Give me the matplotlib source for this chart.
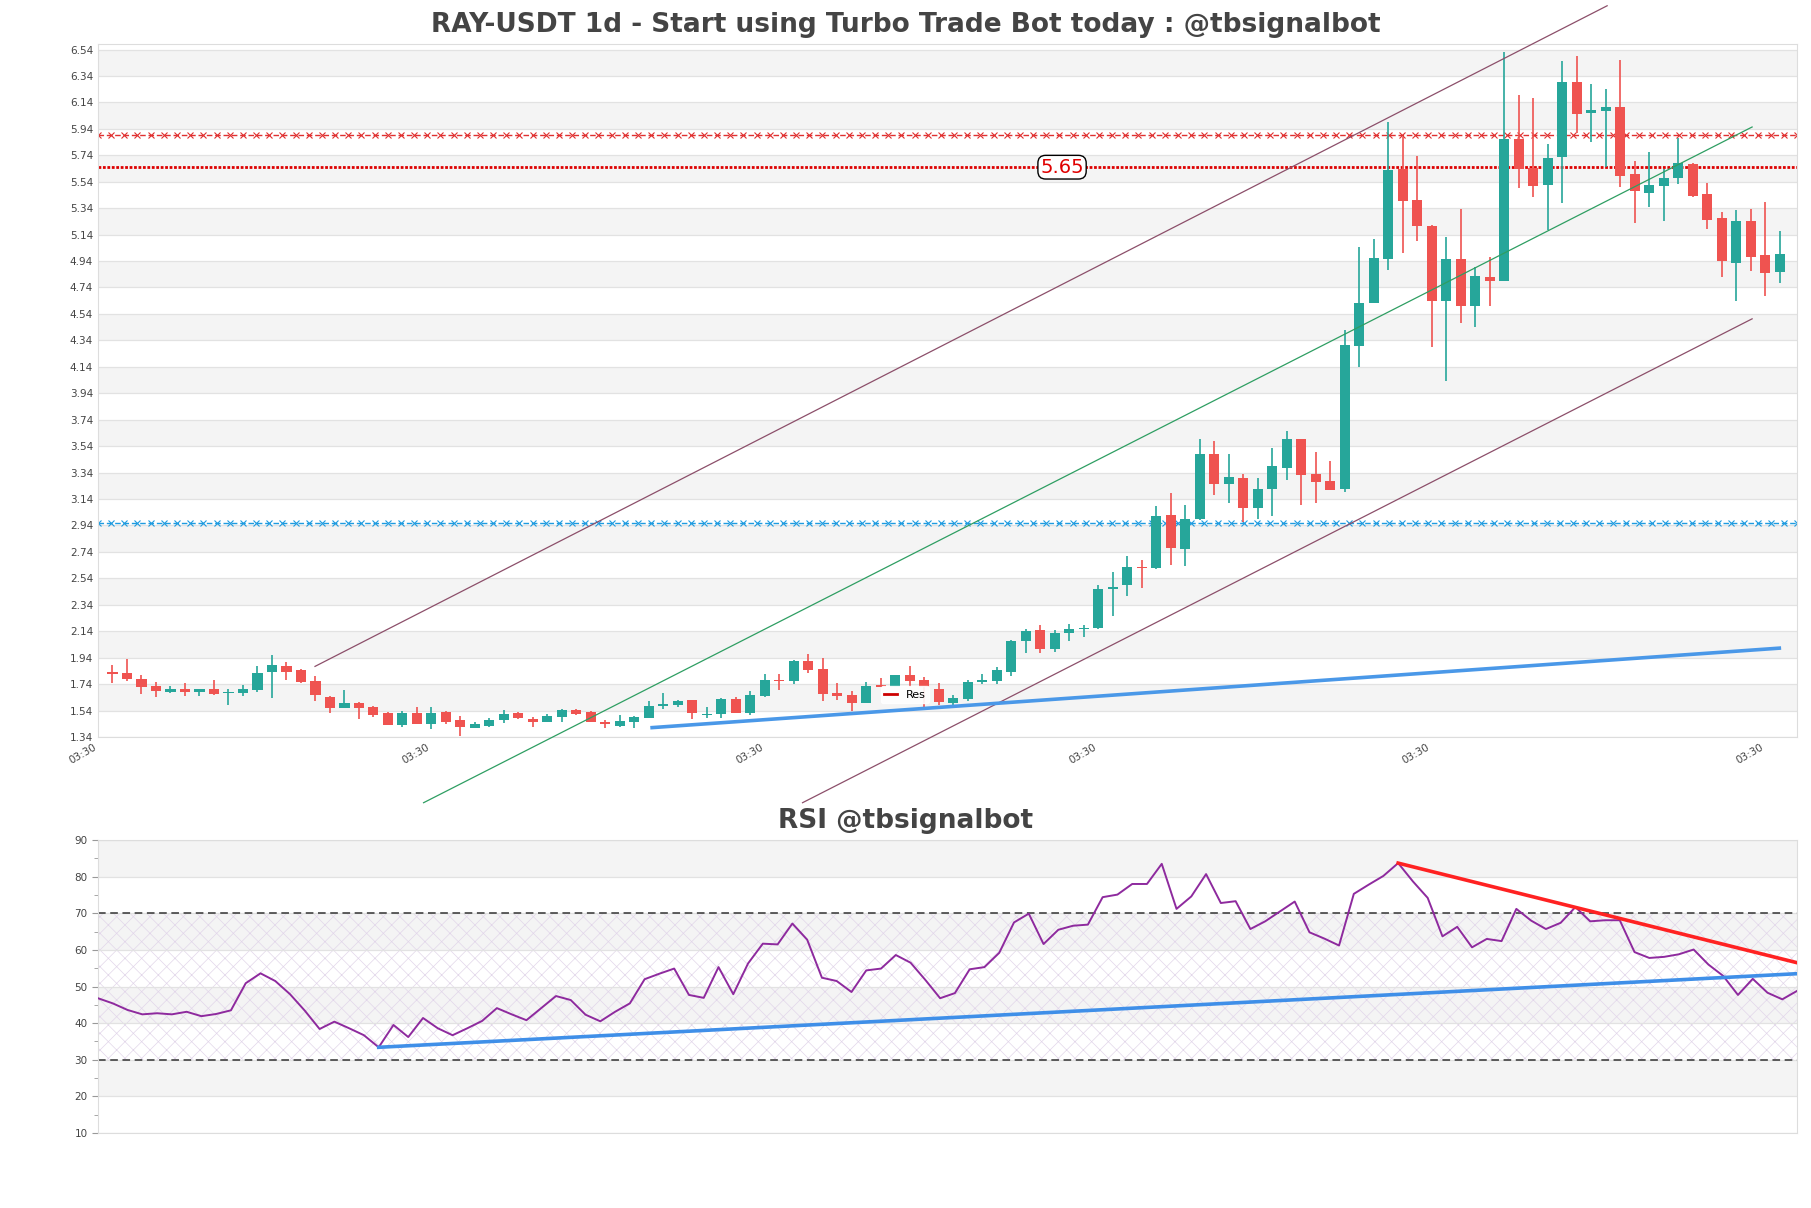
import numpy as np
import matplotlib
matplotlib.use('Agg')
import matplotlib.pyplot as plt
from matplotlib.lines import Line2D

# daily candles
opens = [1.830, 1.822, 1.776, 1.725, 1.680, 1.704, 1.682, 1.704, 1.675, 1.675,
         1.696, 1.834, 1.877, 1.847, 1.764, 1.643, 1.562, 1.597, 1.565, 1.519,
         1.433, 1.519, 1.441, 1.527, 1.469, 1.410, 1.426, 1.469, 1.519, 1.479,
         1.456, 1.489, 1.544, 1.529, 1.451, 1.426, 1.456, 1.487, 1.577, 1.582,
         1.620, 1.507, 1.514, 1.630, 1.524, 1.650, 1.772, 1.764, 1.915, 1.851,
         1.673, 1.655, 1.600, 1.731, 1.721, 1.809, 1.771, 1.703, 1.600, 1.627,
         1.753, 1.764, 1.834, 2.068, 2.149, 2.008, 2.124, 2.157, 2.167, 2.457,
         2.487, 2.628, 2.620, 3.020, 2.762, 2.987, 3.481, 3.256, 3.297, 3.075,
         3.214, 3.378, 3.594, 3.330, 3.277, 3.215, 4.298, 4.625, 4.958, 5.634,
         5.402, 5.205, 4.641, 4.953, 4.603, 4.817, 4.792, 5.863, 5.642, 5.518,
         5.730, 6.297, 6.058, 6.078, 6.103, 5.596, 5.458, 5.510, 5.566, 5.672,
         5.448, 5.263, 4.928, 5.243, 4.986, 4.855]
highs = [1.885, 1.928, 1.809, 1.756, 1.725, 1.746, 1.704, 1.771, 1.701, 1.735,
         1.877, 1.960, 1.907, 1.852, 1.802, 1.648, 1.696, 1.607, 1.575, 1.527,
         1.539, 1.565, 1.565, 1.539, 1.499, 1.456, 1.481, 1.544, 1.527, 1.494,
         1.512, 1.549, 1.549, 1.537, 1.469, 1.504, 1.499, 1.615, 1.670, 1.620,
         1.620, 1.564, 1.635, 1.640, 1.688, 1.814, 1.816, 1.922, 1.968, 1.935,
         1.749, 1.688, 1.753, 1.784, 1.809, 1.877, 1.796, 1.746, 1.658, 1.771,
         1.814, 1.872, 2.073, 2.157, 2.187, 2.149, 2.195, 2.187, 2.490, 2.586,
         2.712, 2.679, 3.088, 3.183, 3.095, 3.594, 3.582, 3.481, 3.330, 3.297,
         3.523, 3.655, 3.594, 3.493, 3.425, 4.418, 5.049, 5.105, 5.995, 5.881,
         5.735, 5.213, 5.125, 5.334, 4.898, 4.973, 6.524, 6.196, 6.171, 5.826,
         6.456, 6.491, 6.280, 6.239, 6.461, 5.697, 5.768, 5.634, 5.869, 5.679,
         5.528, 5.314, 5.326, 5.331, 5.384, 5.168]
lows = [1.750, 1.767, 1.665, 1.645, 1.675, 1.650, 1.652, 1.660, 1.582, 1.650,
        1.683, 1.637, 1.771, 1.751, 1.615, 1.524, 1.562, 1.478, 1.494, 1.428,
        1.418, 1.436, 1.403, 1.441, 1.348, 1.410, 1.418, 1.443, 1.474, 1.413,
        1.456, 1.451, 1.507, 1.451, 1.405, 1.418, 1.405, 1.487, 1.549, 1.567,
        1.479, 1.487, 1.487, 1.519, 1.509, 1.645, 1.696, 1.741, 1.821, 1.615,
        1.622, 1.534, 1.595, 1.716, 1.721, 1.721, 1.569, 1.582, 1.577, 1.615,
        1.741, 1.738, 1.801, 1.973, 1.973, 1.986, 2.068, 2.094, 2.160, 2.257,
        2.409, 2.465, 2.613, 2.643, 2.636, 2.982, 3.173, 3.110, 2.965, 2.990,
        3.010, 3.287, 3.095, 3.112, 3.209, 3.194, 4.137, 4.625, 4.873, 5.000,
        5.094, 4.293, 4.030, 4.474, 4.444, 4.600, 4.792, 5.495, 5.427, 5.175,
        5.377, 5.906, 5.843, 5.654, 5.498, 5.231, 5.352, 5.246, 5.523, 5.422,
        5.180, 4.817, 4.641, 4.868, 4.678, 4.777]
closes = [1.820, 1.781, 1.720, 1.690, 1.701, 1.680, 1.704, 1.665, 1.680, 1.704,
          1.822, 1.885, 1.834, 1.756, 1.658, 1.562, 1.597, 1.562, 1.509, 1.433,
          1.519, 1.441, 1.519, 1.456, 1.413, 1.436, 1.469, 1.512, 1.487, 1.456,
          1.499, 1.544, 1.517, 1.456, 1.436, 1.461, 1.494, 1.574, 1.587, 1.615,
          1.519, 1.517, 1.630, 1.519, 1.658, 1.771, 1.766, 1.915, 1.846, 1.668,
          1.650, 1.600, 1.723, 1.718, 1.809, 1.766, 1.721, 1.607, 1.635, 1.753,
          1.768, 1.846, 2.068, 2.144, 2.008, 2.124, 2.157, 2.167, 2.460, 2.472,
          2.628, 2.620, 3.012, 2.772, 2.990, 3.481, 3.256, 3.307, 3.075, 3.216,
          3.390, 3.594, 3.325, 3.272, 3.209, 4.303, 4.620, 4.961, 5.629, 5.397,
          5.208, 4.641, 4.953, 4.603, 4.827, 4.792, 5.863, 5.634, 5.510, 5.720,
          6.297, 6.055, 6.083, 6.103, 5.586, 5.473, 5.516, 5.566, 5.685, 5.435,
          5.251, 4.943, 5.243, 4.973, 4.852, 4.994]

rsi = [46.8, 45.4, 43.6, 42.4, 42.7, 42.4, 43.1, 41.9, 42.5, 43.5,
       50.9, 53.6, 51.5, 47.9, 43.4, 38.4, 40.4, 38.6, 36.7, 33.4,
       39.5, 36.2, 41.4, 38.6, 36.7, 38.6, 40.6, 44.1, 42.4, 40.8,
       44.1, 47.4, 46.3, 42.3, 40.5, 43.1, 45.4, 52.0, 53.5, 54.9,
       47.7, 46.9, 55.3, 47.9, 56.3, 61.7, 61.5, 67.2, 62.8, 52.4,
       51.5, 48.5, 54.4, 54.9, 58.6, 56.5, 51.8, 46.8, 48.2, 54.7,
       55.3, 59.2, 67.5, 69.9, 61.6, 65.5, 66.6, 66.9, 74.4, 75.1,
       78.0, 78.0, 83.5, 71.2, 74.6, 80.7, 72.8, 73.3, 65.7, 67.8,
       70.5, 73.2, 64.8, 63.1, 61.2, 75.3, 77.8, 80.2, 83.7, 78.7,
       74.2, 63.7, 66.3, 60.7, 63.0, 62.4, 71.2, 68.0, 65.7, 67.4,
       71.7, 67.8, 68.1, 68.1, 59.4, 57.8, 58.1, 58.8, 60.1, 56.0,
       52.9, 47.7, 52.1, 48.3, 46.5, 48.8]

res_level = 5.65
res_upper = 5.89
sup_level = 2.96
# trend / channel lines: (x0, y0, x1, y1)
chan_upper = (13.97, 1.874, 103.1, 6.871)
chan_mid = (21.46, 0.843, 113.1, 5.954)
chan_lower = (47.6, 0.843, 113.1, 4.503)
price_support = (37.1, 1.41, 115.1, 2.013)
rsi_support = (19, 33.4, 115, 53.5)
rsi_resist = (88, 83.7, 115, 56.5)

tick_pos = [-1, 22, 45, 68, 91, 114]
tick_lab = ['03:30'] * len(tick_pos)

UP = '#26a69a'
DOWN = '#ef5350'
TXT = '#444444'
SPINE = '#dddddd'

plt.rcParams['hatch.linewidth'] = 0.5

fig = plt.figure(figsize=(18.11, 12.08), dpi=100)
ax = fig.add_axes([0.0541, 0.3899, 0.9382, 0.5737])
ax2 = fig.add_axes([0.0541, 0.0621, 0.9382, 0.2425])

# ---- price panel ----
yt = [round(1.34 + 0.2 * k, 2) for k in range(27)]
for k in range(26):
    if k % 2 == 1:
        ax.axhspan(yt[k], yt[k + 1], color='#f4f4f4', zorder=0, lw=0)
ax.set_yticks(yt)
ax.set_yticklabels(['%.2f' % v for v in yt])
ax.grid(axis='y', color='#e2e2e2', lw=0.9, zorder=0.5)
ax.set_axisbelow(True)

x = np.arange(len(opens))
for i in x:
    o, h, l, c = opens[i], highs[i], lows[i], closes[i]
    col = UP if c >= o else DOWN
    ax.vlines(i, l, h, color=col, lw=1.2, zorder=3)
    body = max(abs(c - o), 0.008)
    ax.bar(i, body, bottom=min(o, c), width=0.7, color=col, zorder=3, lw=0)

xs = np.linspace(-1, 116.2, 130)
ax.plot(xs, [res_upper] * len(xs), color='#e03030', lw=1.0, ls=(0, (4, 2)),
        marker='x', ms=4.5, mew=0.8, zorder=2)
ax.plot(xs, [sup_level] * len(xs), color='#1e9be0', lw=1.0, ls=(0, (4, 2)),
        marker='x', ms=4.5, mew=0.8, zorder=2)
ax.axhline(res_level, color='#dd0000', lw=2.0, ls=(0, (1, 0.6)), zorder=2)
ax.text(65.5, res_level, '%.2f' % res_level, color='#e00000', fontsize=14,
        ha='center', va='center', zorder=6,
        bbox=dict(boxstyle='round,pad=0.12,rounding_size=0.4', fc='white', ec='black', lw=1))

for (x0, y0, x1, y1), col in [(chan_upper, '#8c4f6a'), (chan_mid, '#2e9e62'),
                              (chan_lower, '#8c4f6a')]:
    ax.plot([x0, x1], [y0, y1], color=col, lw=0.9, clip_on=False, zorder=4)
x0, y0, x1, y1 = price_support
ax.plot([x0, x1], [y0, y1], color='#4a98e8', lw=2.6, zorder=4, solid_capstyle='butt')

ax.set_xlim(-1, 116.2)
ax.set_ylim(1.34, 6.582)
ax.set_xticks(tick_pos)
ax.set_xticklabels(tick_lab, rotation=30, ha='right', fontsize=7.5, color=TXT)
ax.tick_params(axis='both', length=0, labelsize=7.5, labelcolor=TXT)
for s in ax.spines.values():
    s.set_color(SPINE)

res_handle = Line2D([0], [0], color='#cc0000', lw=2, label='Res')
leg = ax.legend(handles=[res_handle], loc='center', bbox_to_anchor=(0.475, 0.061),
                fontsize=8, frameon=True, handlelength=1.2, borderpad=0.3)
leg.get_frame().set_edgecolor('white')
leg.get_frame().set_alpha(0.9)

# ---- RSI panel ----
for lo in (20, 40, 60, 80):
    ax2.axhspan(lo, lo + 10, color='#f4f4f4', zorder=0, lw=0)
ax2.fill_between([0, len(rsi) - 1], 30, 70, facecolor='none', edgecolor='#e2d6ea',
                 hatch='xx', lw=0, zorder=0.6)
ax2.set_yticks(range(10, 91, 10))
ax2.set_yticks(range(15, 90, 10), minor=True)
ax2.grid(axis='y', which='major', color='#e2e2e2', lw=0.9, zorder=0.5)
ax2.axhline(70, color='#333333', lw=1.1, ls=(0, (5, 3)), zorder=2)
ax2.axhline(30, color='#333333', lw=1.1, ls=(0, (5, 3)), zorder=2)
ax2.plot(np.arange(len(rsi)), rsi, color='#8e2a9e', lw=1.4, zorder=3)
for (x0, y0, x1, y1), col in [(rsi_support, '#3f8fe8'), (rsi_resist, '#ff2222')]:
    ax2.plot([x0, x1], [y0, y1], color=col, lw=2.6, zorder=4)
ax2.set_xlim(0, len(rsi) - 1)
ax2.set_ylim(10, 90)
ax2.set_xticks([])
ax2.tick_params(axis='y', which='major', length=4, color='#999999', labelsize=7.5, labelcolor=TXT)
ax2.tick_params(axis='y', which='minor', length=3, color='#999999')
for s in ax2.spines.values():
    s.set_color(SPINE)

fig.text(0.5, 0.979, 'RAY-USDT 1d - Start using Turbo Trade Bot today : @tbsignalbot',
         ha='center', va='center', fontsize=19, fontweight='bold', color=TXT)
fig.text(0.5, 0.320, 'RSI @tbsignalbot', ha='center', va='center',
         fontsize=19, fontweight='bold', color=TXT)

fig.savefig('out.png', dpi=100)
